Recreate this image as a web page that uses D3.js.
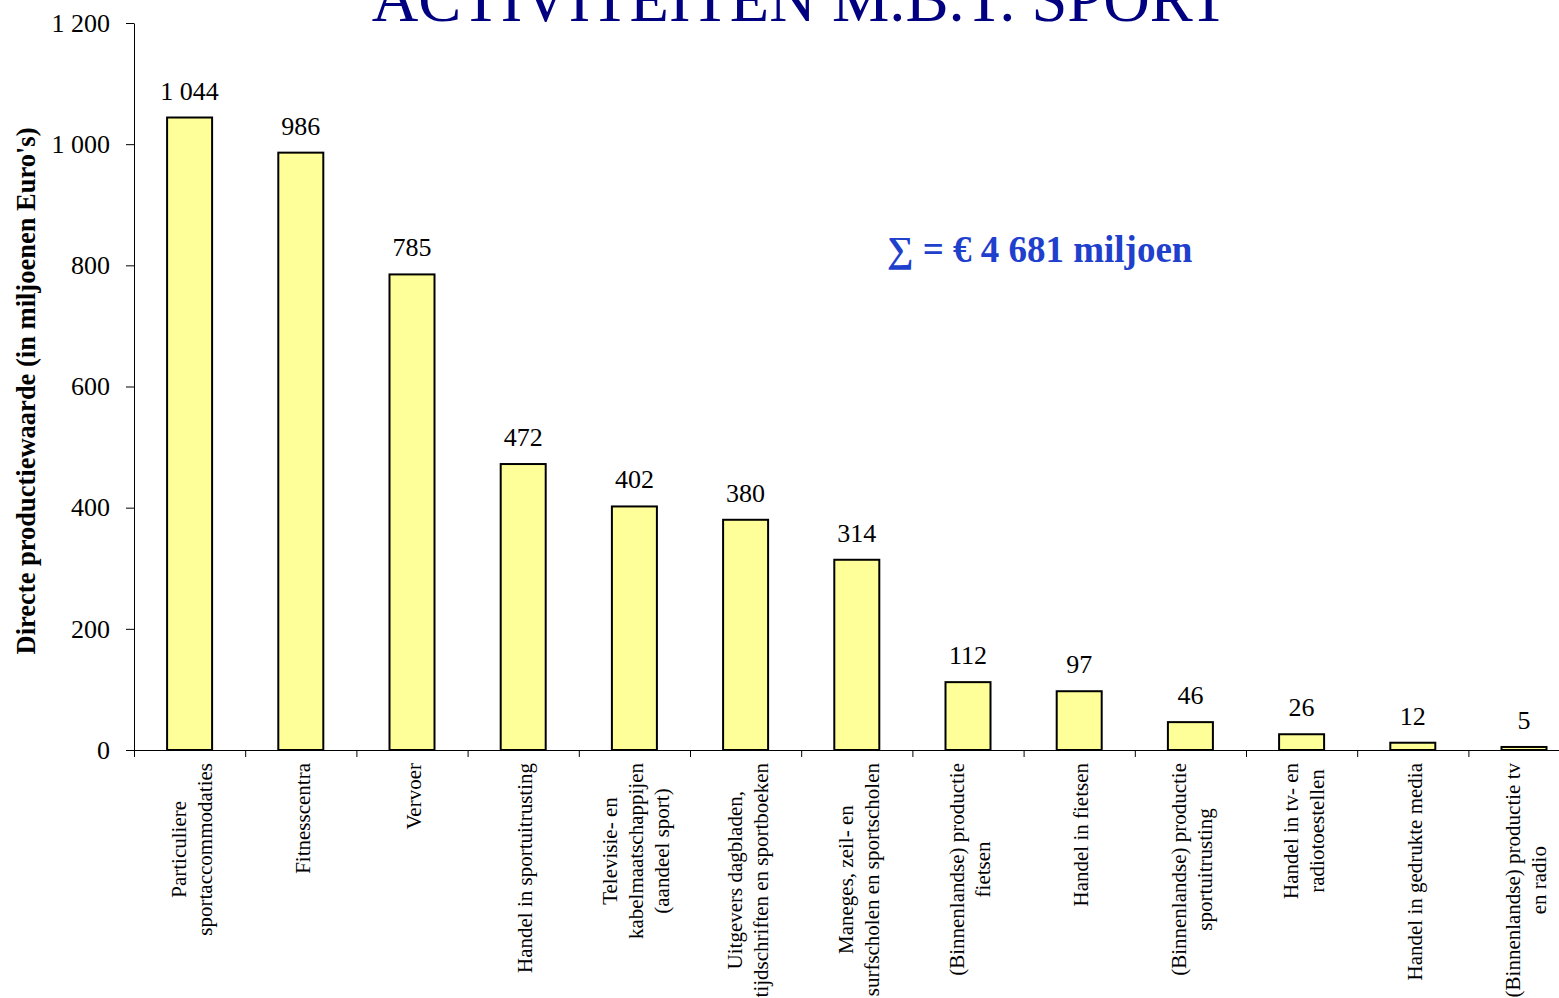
<!DOCTYPE html>
<html>
<head>
<meta charset="utf-8">
<script src="https://cdn.jsdelivr.net/npm/d3@7"></script>
<style>
  body { margin: 0; background: #fff; }
  svg { display: block; font-family: "Liberation Serif", "Times New Roman", serif; }
</style>
</head>
<body>
<div id="chart"></div>
<script>
// categories (line breaks as in the original labels)
var categories = [
    "Particuliere\nsportaccommodaties",
    "Fitnesscentra",
    "Vervoer",
    "Handel in sportuitrusting",
    "Televisie- en\nkabelmaatschappijen\n(aandeel sport)",
    "Uitgevers dagbladen,\ntijdschriften en sportboeken",
    "Maneges, zeil- en\nsurfscholen en sportscholen",
    "(Binnenlandse) productie\nfietsen",
    "Handel in fietsen",
    "(Binnenlandse) productie\nsportuitrusting",
    "Handel in tv- en\nradiotoestellen",
    "Handel in gedrukte media",
    "(Binnenlandse) productie tv\nen radio"
];
var values = [1044, 986, 785, 472, 402, 380, 314, 112, 97, 46, 26, 12, 5];
var yTicks = [0, 200, 400, 600, 800, 1000, 1200];

var title = "ACTIVITEITEN M.B.T. SPORT";
var yTitle = "Directe productiewaarde (in miljoenen Euro's)";
var totalText = "\u2211 = \u20AC 4 681 miljoen";

var width = 1559, height = 998;
var left = 134, step = 111.2;

var nl = d3.formatLocale({decimal: ",", thousands: " ", grouping: [3], currency: ["", ""]});
var fmt = nl.format(",d");

var svg = d3.select("#chart").append("svg")
    .attr("width", width)
    .attr("height", height);

var xIdx = d3.scaleLinear()
    .domain([0, categories.length])
    .range([left, left + categories.length * step]);

var yScale = d3.scaleLinear()
    .domain([0, 1200])
    .range([750, 23]);

var barW = 45;

// bars
svg.selectAll("rect.bar")
    .data(values)
    .enter()
    .append("rect")
    .attr("class", "bar")
    .attr("x", function(d, i){ return xIdx(i + 0.5) - barW / 2; })
    .attr("y", function(d){ return yScale(d); })
    .attr("width", barW)
    .attr("height", function(d){ return yScale(0) - yScale(d); })
    .attr("fill", "#FFFF99")
    .attr("stroke", "#000")
    .attr("stroke-width", 2);

// value labels
svg.selectAll("text.val")
    .data(values)
    .enter()
    .append("text")
    .attr("class", "val")
    .attr("x", function(d, i){ return xIdx(i + 0.5); })
    .attr("y", function(d){ return yScale(d) - 18; })
    .attr("text-anchor", "middle")
    .style("font-size", "26px")
    .text(function(d){ return fmt(d); });

// y axis
var yAxis = svg.append("g")
    .attr("transform", `translate(${left}, 0)`)
    .call(d3.axisLeft(yScale).tickValues(yTicks).tickFormat(fmt)
        .tickSize(8).tickSizeOuter(0).tickPadding(16));
yAxis.selectAll("text")
    .style("font-size", "26px")
    .style("font-family", "Liberation Serif, serif")
    .attr("fill", "#000");
yAxis.selectAll("line, path").attr("stroke", "#000");

// x axis (ticks between categories)
var xAxis = svg.append("g")
    .attr("transform", `translate(0, ${yScale(0)})`)
    .call(d3.axisBottom(xIdx).tickValues(d3.range(0, categories.length + 1))
        .tickFormat("").tickSize(7).tickSizeOuter(0));
xAxis.selectAll("line, path").attr("stroke", "#000");

// category labels, rotated, lines centred within the block
var labelTop = 763, lineH = 26;
var catG = svg.selectAll("g.cat")
    .data(categories)
    .enter()
    .append("g")
    .attr("class", "cat");

catG.each(function(c, i){
    var g = d3.select(this);
    var lines = c.split("\n");
    var t = g.append("text")
        .attr("text-anchor", "middle")
        .style("font-size", "21px");
    lines.forEach(function(l){
        t.append("tspan").text(l);
    });
    var maxW = 0;
    t.selectAll("tspan").each(function(){
        maxW = Math.max(maxW, this.getComputedTextLength());
    });
    var cx = xIdx(i + 0.5) + 2;
    var cy = labelTop + maxW / 2;
    var n = lines.length;
    t.attr("transform", `translate(${cx}, ${cy}) rotate(-90)`);
    t.selectAll("tspan")
        .attr("x", 0)
        .attr("y", function(d, j){ return (j - (n - 1) / 2) * lineH + 7; });
});

// y axis title
svg.append("text")
    .attr("transform", "translate(35, 391) rotate(-90)")
    .attr("text-anchor", "middle")
    .style("font-size", "26.5px")
    .style("font-weight", "bold")
    .text(yTitle);

// chart title (cut off at the top, as in the original)
svg.append("text")
    .attr("x", 800)
    .attr("y", 21)
    .attr("text-anchor", "middle")
    .attr("fill", "#000080")
    .style("font-size", "64.5px")
    .text(title);

// total
svg.append("text")
    .attr("x", 887)
    .attr("y", 262)
    .attr("fill", "#1E40CC")
    .style("font-size", "37px")
    .style("font-weight", "bold")
    .text(totalText);
</script>
</body>
</html>
